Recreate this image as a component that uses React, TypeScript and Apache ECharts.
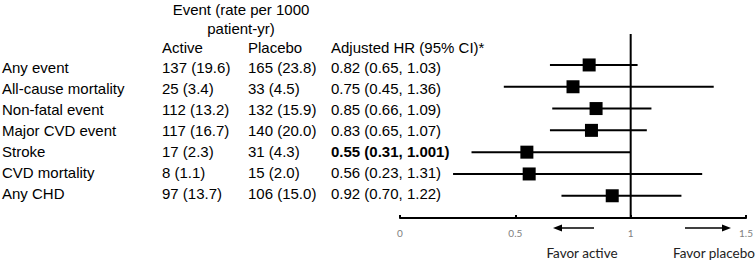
import React, { useEffect, useRef } from "react";
import * as echarts from "echarts";

const outcomes = ["Any event", "All-cause mortality", "Non-fatal event", "Major CVD event", "Stroke", "CVD mortality", "Any CHD"];
const activeCol = ["137 (19.6)", "25 (3.4)", "112 (13.2)", "117 (16.7)", "17 (2.3)", "8 (1.1)", "97 (13.7)"];
const placeboCol = ["165 (23.8)", "33 (4.5)", "132 (15.9)", "140 (20.0)", "31 (4.3)", "15 (2.0)", "106 (15.0)"];
const hrText = ["0.82 (0.65, 1.03)", "0.75 (0.45, 1.36)", "0.85 (0.66, 1.09)", "0.83 (0.65, 1.07)", "0.55 (0.31, 1.001)", "0.56 (0.23, 1.31)", "0.92 (0.70, 1.22)"];
const boldRows = [4];
const hr = [0.82, 0.75, 0.85, 0.83, 0.55, 0.56, 0.92];
const lower = [0.65, 0.45, 0.66, 0.65, 0.31, 0.23, 0.70];
const upper = [1.03, 1.36, 1.09, 1.07, 1.001, 1.31, 1.22];
const xTicks = [0, 0.5, 1, 1.5];

const FONT = "'Liberation Sans', Arial, sans-serif";
const FONT2 = "Lato, 'Open Sans', sans-serif";

export default function App() {
  const ref = useRef<HTMLDivElement>(null);
  useEffect(() => {
    const chart = echarts.init(ref.current!, null, { renderer: "svg" });
    const rowY = (i: number) => 67 + 21 * i;
    const tableTexts: any[] = [];
    const t = (text: string, x: number, y: number, align = "left", bold = false) => ({
      type: "text",
      x,
      y,
      style: { text, fill: "#000", font: `${bold ? "bold " : ""}15px ${FONT}`, textAlign: align, textVerticalAlign: "middle" },
    });
    tableTexts.push(t("Event (rate per 1000", 241, 9.5, "center"));
    tableTexts.push(t("patient-yr)", 241, 28.5, "center"));
    tableTexts.push(t("Active", 162, 47));
    tableTexts.push(t("Placebo", 248, 47));
    tableTexts.push(t("Adjusted HR (95% CI)*", 331, 47));
    outcomes.forEach((o, i) => {
      const y = rowY(i);
      tableTexts.push(t(o, 2, y));
      tableTexts.push(t(activeCol[i], 162, y));
      tableTexts.push(t(placeboCol[i], 248, y));
      tableTexts.push(t(hrText[i], 331, y, "left", boldRows.includes(i)));
    });
    const arrowY = 228;
    const graphics: any[] = [
      ...tableTexts,
      { type: "line", shape: { x1: 594, y1: arrowY, x2: 561, y2: arrowY }, style: { stroke: "#000", lineWidth: 1.5 } },
      { type: "polygon", shape: { points: [[553, arrowY], [562, arrowY - 3.5], [562, arrowY + 3.5]] }, style: { fill: "#000" } },
      { type: "line", shape: { x1: 685, y1: arrowY, x2: 723, y2: arrowY }, style: { stroke: "#000", lineWidth: 1.5 } },
      { type: "polygon", shape: { points: [[731, arrowY], [722, arrowY - 3.5], [722, arrowY + 3.5]] }, style: { fill: "#000" } },
      { type: "text", x: 582, y: 253, style: { text: "Favor active", fill: "#222", font: `13.5px ${FONT2}`, textAlign: "center", textVerticalAlign: "middle" } },
      { type: "text", x: 673, y: 253, style: { text: "Favor placebo", fill: "#222", font: `13.5px ${FONT2}`, textAlign: "left", textVerticalAlign: "middle" } },
    ];
    const data = hr.map((v, i) => [v, lower[i], upper[i], i]);
    chart.setOption({
      animation: false,
      grid: { left: 400, width: 347, top: 34, height: 184, containLabel: false },
      xAxis: {
        type: "value",
        min: 0,
        max: 1.5,
        interval: 0.5,
        position: "bottom",
        splitLine: { show: false },
        axisLine: { show: true, onZero: false, lineStyle: { color: "#000", width: 2 } },
        axisTick: { show: true, inside: true, length: 3, lineStyle: { color: "#000", width: 2 } },
        axisLabel: {
          color: "#808080",
          fontSize: 10,
          fontFamily: FONT2,
          margin: 10,
          formatter: (v: number) => (xTicks.includes(v) ? String(v) : ""),
        },
      },
      yAxis: { type: "value", min: -1.42, max: 7.02, inverse: true, show: false },
      graphic: graphics,
      series: [
        {
          type: "line",
          data: [[1, -1.42], [1, 7.02]],
          symbol: "none",
          lineStyle: { color: "#000", width: 2 },
          silent: true,
        },
        {
          type: "custom",
          data,
          clip: false,
          renderItem: (params: any, api: any) => {
            const v = api.value(0);
            const lo = api.value(1);
            const hi = api.value(2);
            const idx = api.value(3);
            const pLo = api.coord([lo, idx]);
            const pHi = api.coord([hi, idx]);
            const pV = api.coord([v, idx]);
            const s = 13;
            return {
              type: "group",
              children: [
                { type: "line", shape: { x1: pLo[0], y1: pLo[1], x2: pHi[0], y2: pHi[1] }, style: { stroke: "#000", lineWidth: 2 } },
                { type: "rect", shape: { x: pV[0] - s / 2, y: pV[1] - s / 2, width: s, height: s }, style: { fill: "#000" } },
              ],
            };
          },
        },
      ],
    });
    return () => chart.dispose();
  }, []);
  return <div ref={ref} style={{ width: 756, height: 260, position: "absolute", left: 0, top: 0, background: "#fff" }} />;
}
